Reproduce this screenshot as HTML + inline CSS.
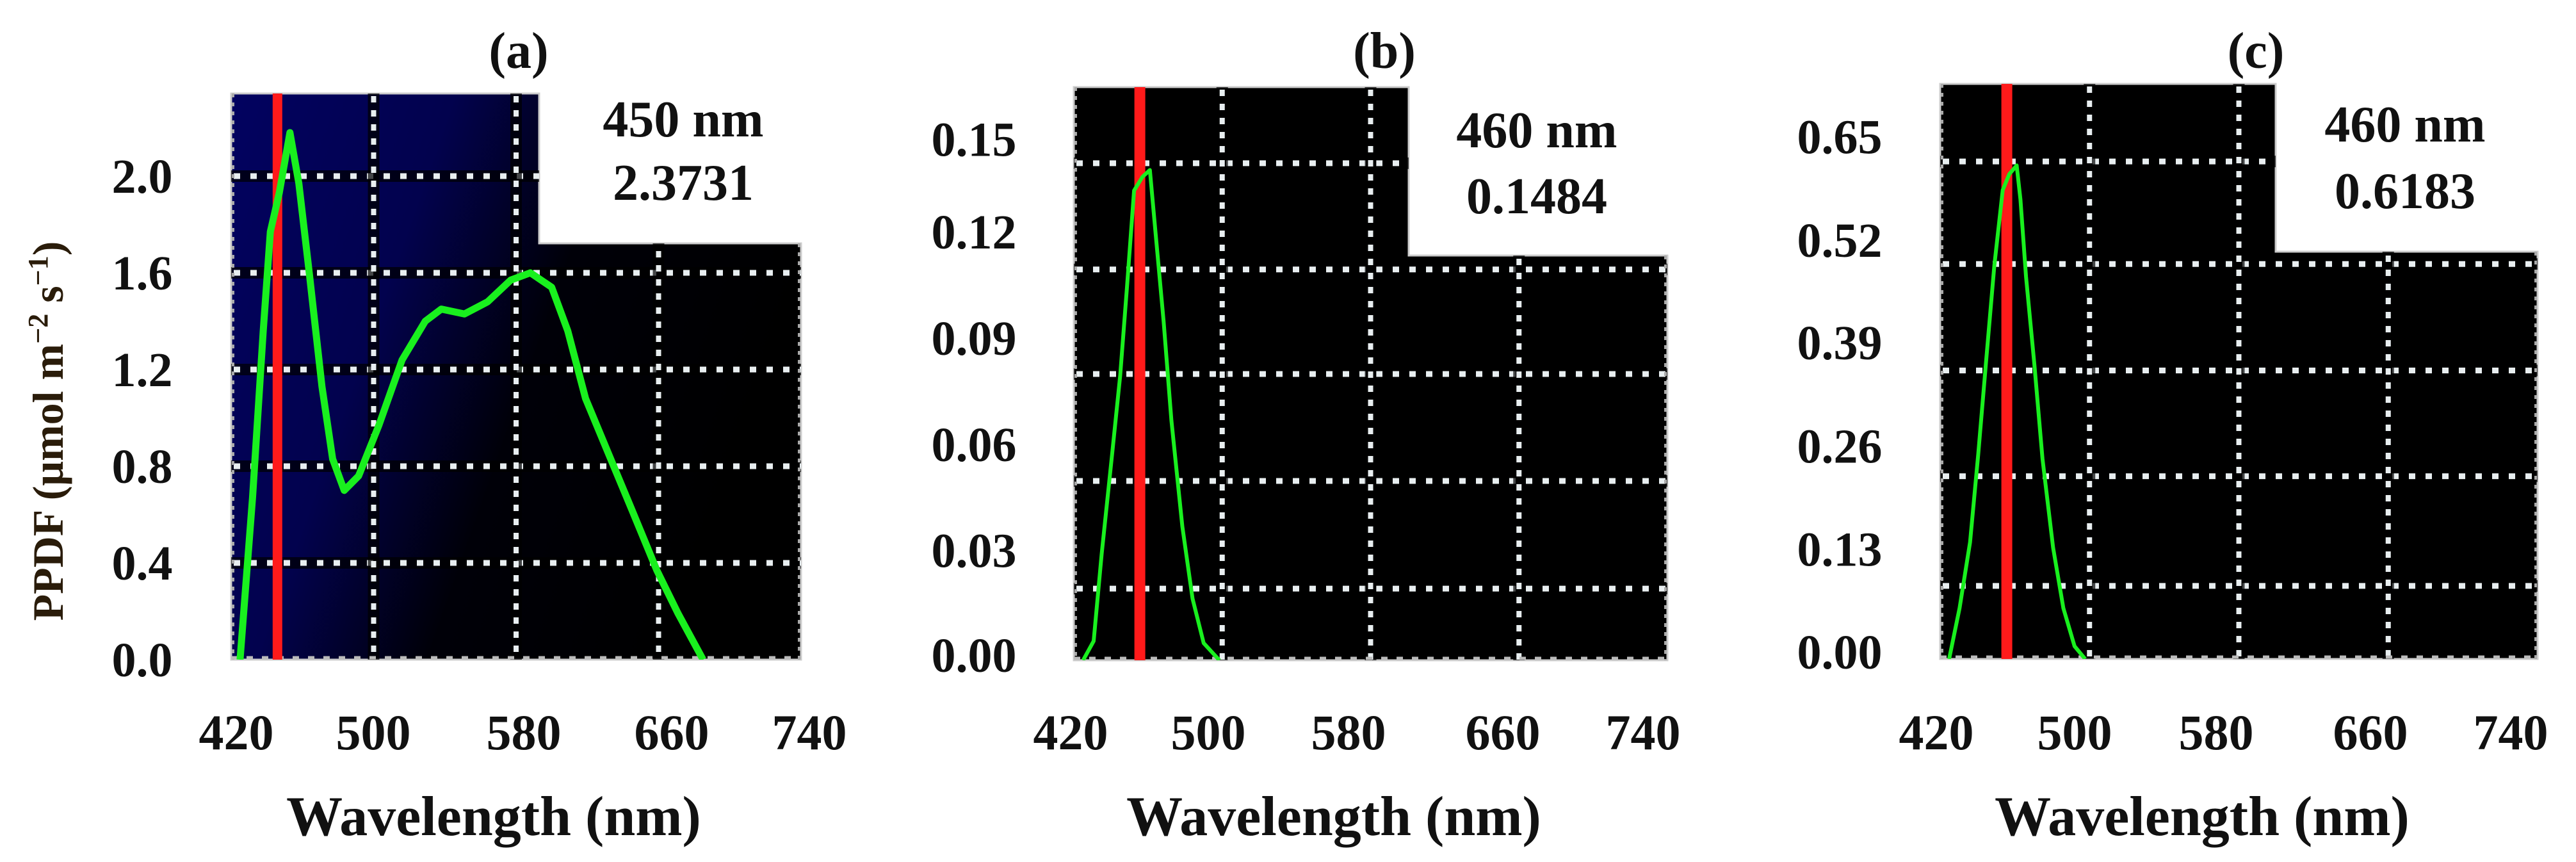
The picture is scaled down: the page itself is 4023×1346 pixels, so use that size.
<!DOCTYPE html>
<html><head><meta charset="utf-8">
<style>
html,body{margin:0;padding:0;background:#fff;}
svg{display:block;}
text{font-family:"Liberation Serif",serif;font-weight:bold;fill:#111;}
</style></head>
<body>
<svg id="fig" width="4023" height="1346" viewBox="0 0 4023 1346" xmlns="http://www.w3.org/2000/svg">
<defs>
<linearGradient id="navyA" x1="0" y1="0" x2="1" y2="0.35">
<stop offset="0" stop-color="#020260"/>
<stop offset="0.35" stop-color="#02024e"/>
<stop offset="0.62" stop-color="#000008"/>
<stop offset="1" stop-color="#000"/>
</linearGradient>
</defs>
</svg>
<script>
// ---- Panel (a) data ----
const wlA = [425,432,438,442,447,453,458,464,471,477,483.5,491.6,503,516,529,538,551,564,577,588,600,609,619,632,645,659,671,685];
const valA = [0,0.67,1.36,1.77,1.93,2.18,1.97,1.59,1.13,0.83,0.70,0.76,0.97,1.24,1.40,1.45,1.43,1.48,1.57,1.60,1.54,1.36,1.08,0.85,0.62,0.37,0.19,0];
const ticksA = ["0.0","0.4","0.8","1.2","1.6","2.0"];
const tickValsA = [0,0.4,0.8,1.2,1.6,2.0];
const gridYA = [0.4,0.8,1.2,1.6,2.0];
// ---- Panel (b) data ----
const wlB = [425,430.7,435,440.8,445,448.7,452.5,457,461,464,468.4,472.6,478.5,484,490,498.5];
const valB = [0,0.0056,0.031,0.061,0.083,0.109,0.137,0.141,0.143,0.125,0.099,0.070,0.039,0.018,0.005,0];
const ticksB = ["0.00","0.03","0.06","0.09","0.12","0.15"];
const tickValsB = [0.0015,0.032,0.063,0.094,0.125,0.152];
const gridYB = [0.0209,0.0523,0.0835,0.114,0.145];
// ---- Panel (c) data ----
const wlC = [424.8,430.4,436,440.4,444.7,449,453.5,457,461,463,466,470.5,474.8,480.5,486,492,497.7];
const valC = [0,0.064,0.147,0.258,0.377,0.495,0.59,0.61,0.621,0.578,0.481,0.370,0.252,0.140,0.064,0.016,0];
const ticksC = ["0.00","0.13","0.26","0.39","0.52","0.65"];
const tickValsC = [0.009,0.138,0.268,0.398,0.527,0.657];
const gridYC = [0.092,0.23,0.363,0.497,0.626];
// shared x axis
const xTicks = [420,500,580,660,740];
const gridX = [500,580,660];
const peakWl = [446,455.6,455.7];
const peakLabel = ["450 nm","460 nm","460 nm"];
const peakValue = ["2.3731","0.1484","0.6183"];
const panelTitles = ["(a)","(b)","(c)"];

const NS="http://www.w3.org/2000/svg";
const svg=document.getElementById('fig');
function mk(tag,attrs,parent){const e=document.createElementNS(NS,tag);for(const k in attrs)e.setAttribute(k,attrs[k]);(parent||svg).appendChild(e);return e;}

const panels=[
 {id:'a',left:361,right:1251,upRight:842,top:146,step:380,bottom:1030,perUnit:377.5,wl:wlA,val:valA,ticks:ticksA,tv:tickValsA,gy:gridYA,tickX:222,titleX:810,annX:1067,annY1:186,annY2:285,wlX:771,curveW:11,bg:'url(#navyA)',tickLblX:[369,583,818,1049,1264]},
 {id:'b',left:1677,right:2604,upRight:2200,top:136,step:399,bottom:1031,perUnit:5353,wl:wlB,val:valB,ticks:ticksB,tv:tickValsB,gy:gridYB,tickX:1521,titleX:2162,annX:2400,annY1:203,annY2:306,wlX:2083,curveW:6,bg:'#000',tickLblX:[1672,1887,2106,2347,2566]},
 {id:'c',left:3030,right:3963,upRight:3554,top:131,step:393,bottom:1029,perUnit:1241,wl:wlC,val:valC,ticks:ticksC,tv:tickValsC,gy:gridYC,tickX:2873,titleX:3523,annX:3756,annY1:194,annY2:298,wlX:3439,curveW:6,bg:'#000',tickLblX:[3024,3240,3461,3702,3921]}
];

panels.forEach((p,i)=>{
  const g=mk('g',{});
  
  
  const xs=(p.right-p.left)/320;
  const X=w=>p.left+(w-420)*xs;
  const Y=v=>p.bottom-v*p.perUnit;
  const bgPath=`M${p.left},${p.top} H${p.upRight} V${p.step} H${p.right} V${p.bottom} H${p.left} Z`;
  const bg=mk('path',{d:bgPath,fill:p.bg,stroke:'#ccc','stroke-width':3},g);
  
  
  const clip=mk('clipPath',{id:'clip'+p.id},g);
  mk('path',{d:bgPath},clip);
  const grid=mk('g',{'clip-path':'url(#clip'+p.id+')'},g);
  
  
  p.gy.forEach(v=>{
    const y=Y(v);
    mk('line',{x1:p.left,x2:p.right,y1:y,y2:y,stroke:'#000','stroke-width':18,opacity:0.7},grid);
    const l=mk('line',{x1:p.left+4,x2:p.right,y1:y,y2:y,stroke:'#e8eef0','stroke-width':9,'stroke-dasharray':'10 16'},grid);
    
    
  });
  gridX.forEach(w=>{
    const x=X(w);
    mk('line',{x1:x,x2:x,y1:p.top,y2:p.bottom,stroke:'#000','stroke-width':18,opacity:0.7},grid);
    const l=mk('line',{x1:x,x2:x,y1:p.top+4,y2:p.bottom,stroke:'#e8eef0','stroke-width':8,'stroke-dasharray':'10 12'},grid);
    
    
  });
  mk('line',{x1:p.left+3,x2:p.left+3,y1:p.top,y2:p.bottom,stroke:'#aaa','stroke-width':4,'stroke-dasharray':'6 8'},grid);
  mk('line',{x1:p.left,x2:p.right,y1:p.bottom-3,y2:p.bottom-3,stroke:'#bbb','stroke-width':5,'stroke-dasharray':'10 14'},grid);
  mk('line',{x1:p.right-3,x2:p.right-3,y1:p.step,y2:p.bottom,stroke:'#aaa','stroke-width':4,'stroke-dasharray':'6 8'},grid);
  const rx=X(peakWl[i]);
  const red=mk('line',{x1:rx,x2:rx,y1:p.top,y2:p.bottom,stroke:'#ff1a1a','stroke-width':i===0?15:17},g);
  
  
  const pts=p.wl.map((w,k)=>X(w).toFixed(1)+','+Y(p.val[k]).toFixed(1)).join(' ');
  const cur=mk('polyline',{points:pts,fill:'none',stroke:'#19f01e','stroke-width':p.curveW,'stroke-linejoin':'round','clip-path':'url(#clip'+p.id+')'},g);
  
  
  p.ticks.forEach((t,k)=>{
    const tx=mk('text',{x:p.tickX,y:Y(p.tv[k])+26,'text-anchor':'middle','font-size':76},g);
    tx.textContent=t;
    
    
  });
  xTicks.forEach((w,k)=>{
    const tx=mk('text',{x:p.tickLblX[k],y:1170,'text-anchor':'middle','font-size':78},g);
    tx.textContent=w;
    
    
  });
  const xt=mk('text',{x:p.wlX,y:1304,'text-anchor':'middle','font-size':88},g);
  xt.textContent='Wavelength (nm)';
  
  
  const tt=mk('text',{x:p.titleX,y:106,'text-anchor':'middle','font-size':80},g);
  tt.textContent=panelTitles[i];
  
  
  const a1=mk('text',{x:p.annX,y:p.annY1+27,'text-anchor':'middle','font-size':80},g);
  a1.textContent=peakLabel[i];
  
  
  const a2=mk('text',{x:p.annX,y:p.annY2+27,'text-anchor':'middle','font-size':80},g);
  a2.textContent=peakValue[i];
  
  
});
const yt=mk('text',{x:0,y:0,'text-anchor':'middle','font-size':68,transform:'translate(98,673) rotate(-90)',style:'fill:#2a1c0a'});
yt.innerHTML='PPDF (μmol m<tspan dy="-24" font-size="44">−2</tspan><tspan dy="24"> s</tspan><tspan dy="-24" font-size="44">−1</tspan><tspan dy="24">)</tspan>';


</script>
</body></html>
